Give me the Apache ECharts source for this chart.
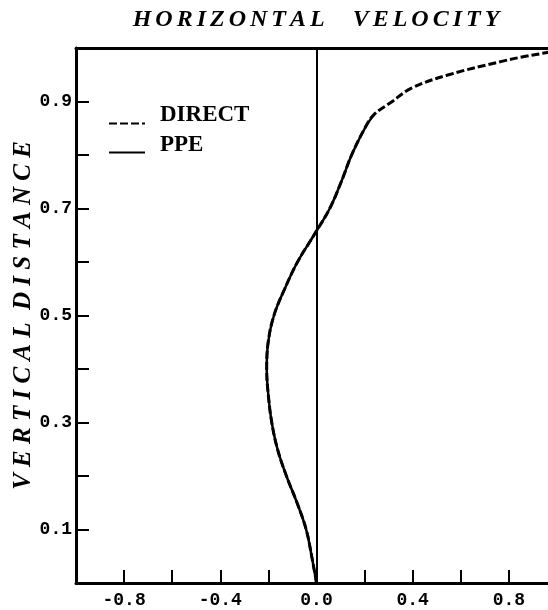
<!DOCTYPE html>
<html lang="en">

<head>
    <meta charset="UTF-8">
    <style>
        html, body { margin: 0; padding: 0; background: #fff; }
        #main { width: 548px; height: 610px; }
    </style>
    <title>Horizontal velocity</title>
</head>

<body>
    <div id="main"></div>
    <script src="https://cdn.jsdelivr.net/npm/echarts@6/dist/echarts.min.js"></script>
    <script>
        // profile, bottom to top
        var vertDist = [0.0, 0.05, 0.10, 0.15, 0.20, 0.25, 0.30, 0.35, 0.40, 0.45, 0.50, 0.55,
            0.60, 0.65, 0.70, 0.75, 0.80, 0.85, 0.875, 0.90, 0.925, 0.95, 0.975, 0.985, 0.99, 0.995];
        var directU = [0.0, -0.02, -0.043, -0.081, -0.125, -0.162, -0.186, -0.200, -0.207, -0.201, -0.177, -0.132,
            -0.079, -0.011, 0.055, 0.103, 0.146, 0.201, 0.238, 0.315, 0.395, 0.55, 0.77, 0.875, 0.94, 1.0];
        // PPE lies on top of DIRECT and stops below the top
        var ppeU = [0.0, -0.02, -0.043, -0.081, -0.125, -0.162, -0.186, -0.200, -0.207, -0.201, -0.177, -0.132,
            -0.079, -0.011, 0.055, 0.103, 0.146, 0.201, 0.238];

        var xTickLabels = ['-0.8', '-0.4', '0.0', '0.4', '0.8'];
        var yTickLabels = ['0.1', '0.3', '0.5', '0.7', '0.9'];

        function pairs(u, y) {
            var out = [];
            for (var i = 0; i < u.length; i++) out.push([u[i], y[i]]);
            return out;
        }
        function pick(list) {
            return function (v) {
                var s = v.toFixed(1);
                if (s === '-0.0') s = '0.0';
                return list.indexOf(s) >= 0 ? s : '';
            };
        }
        // wide letter spacing like the plotter lettering
        function spaced(s, gap, wordGap) {
            return s.split(' ').map(function (w) { return w.split('').join(gap); }).join(wordGap);
        }

        var serifBI = { fontFamily: 'Liberation Serif', fontWeight: 'bold', fontStyle: 'italic', fontSize: 24, color: '#000' };
        var monoB = { fontFamily: 'Liberation Mono', fontWeight: 'bold', fontSize: 18, color: '#000' };

        var myChart = echarts.init(document.getElementById('main'));

        var option = {
            backgroundColor: '#fff',
            animation: false,
            title: {
                text: spaced('HORIZONTAL VELOCITY', '\u2006', '\u2003\u2006'),
                left: 311,
                textAlign: 'center',
                top: 3,
                textStyle: serifBI
            },
            legend: {
                orient: 'vertical',
                left: 103,
                top: 99,
                itemWidth: 36,
                itemHeight: 14,
                itemGap: 4,
                itemStyle: { opacity: 0 },
                data: ['DIRECT', 'PPE'],
                formatter: '{t|{name}}',
                textStyle: {
                    rich: {
                        t: {
                            fontFamily: 'Liberation Serif',
                            fontWeight: 'bold',
                            fontSize: 23,
                            color: '#000',
                            padding: [0, 0, 16, 10]
                        }
                    }
                }
            },
            grid: {
                left: 76,
                top: 48,
                width: 481,
                height: 535,
                outerBoundsMode: 'none',
                containLabel: false
            },
            xAxis: [{
                type: 'value',
                min: -1,
                max: 1,
                interval: 0.2,
                splitLine: { show: false },
                axisLine: { onZero: false, lineStyle: { color: '#000', width: 3 } },
                axisTick: { inside: true, length: 13, lineStyle: { color: '#000', width: 2 } },
                axisLabel: Object.assign({ margin: 8, formatter: pick(xTickLabels) }, monoB)
            }, {
                type: 'value',
                position: 'top',
                min: -1,
                max: 1,
                splitLine: { show: false },
                axisLine: { onZero: false, lineStyle: { color: '#000', width: 3 } },
                axisTick: { show: false },
                axisLabel: { show: false }
            }],
            yAxis: {
                type: 'value',
                min: 0,
                max: 1,
                interval: 0.1,
                name: spaced('VERTICAL DISTANCE', '\u2005', '\u2002'),
                nameLocation: 'middle',
                nameGap: 40,
                nameMoveOverlap: false,
                nameTextStyle: Object.assign({}, serifBI, { fontSize: 25 }),
                splitLine: { show: false },
                axisLine: { onZero: false, lineStyle: { color: '#000', width: 3 } },
                axisTick: { inside: true, length: 13, lineStyle: { color: '#000', width: 2 } },
                axisLabel: Object.assign({ margin: 4, formatter: pick(yTickLabels) }, monoB)
            },
            series: [{
                name: 'PPE',
                type: 'line',
                data: pairs(ppeU, vertDist),
                smooth: 0.4,
                symbol: 'none',
                lineStyle: { color: '#000', width: 2.5, type: 'solid' },
                itemStyle: { color: '#000' },
                markLine: {
                    silent: true,
                    symbol: 'none',
                    label: { show: false },
                    lineStyle: { color: '#000', width: 2, type: 'solid' },
                    data: [{ xAxis: 0 }]
                }
            }, {
                name: 'DIRECT',
                type: 'line',
                data: pairs(directU, vertDist),
                smooth: 0.4,
                symbol: 'none',
                lineStyle: { color: '#000', width: 3, type: [8, 3] },
                itemStyle: { color: '#000' }
            }]
        };

        myChart.setOption(option);
    </script>
</body>

</html>
